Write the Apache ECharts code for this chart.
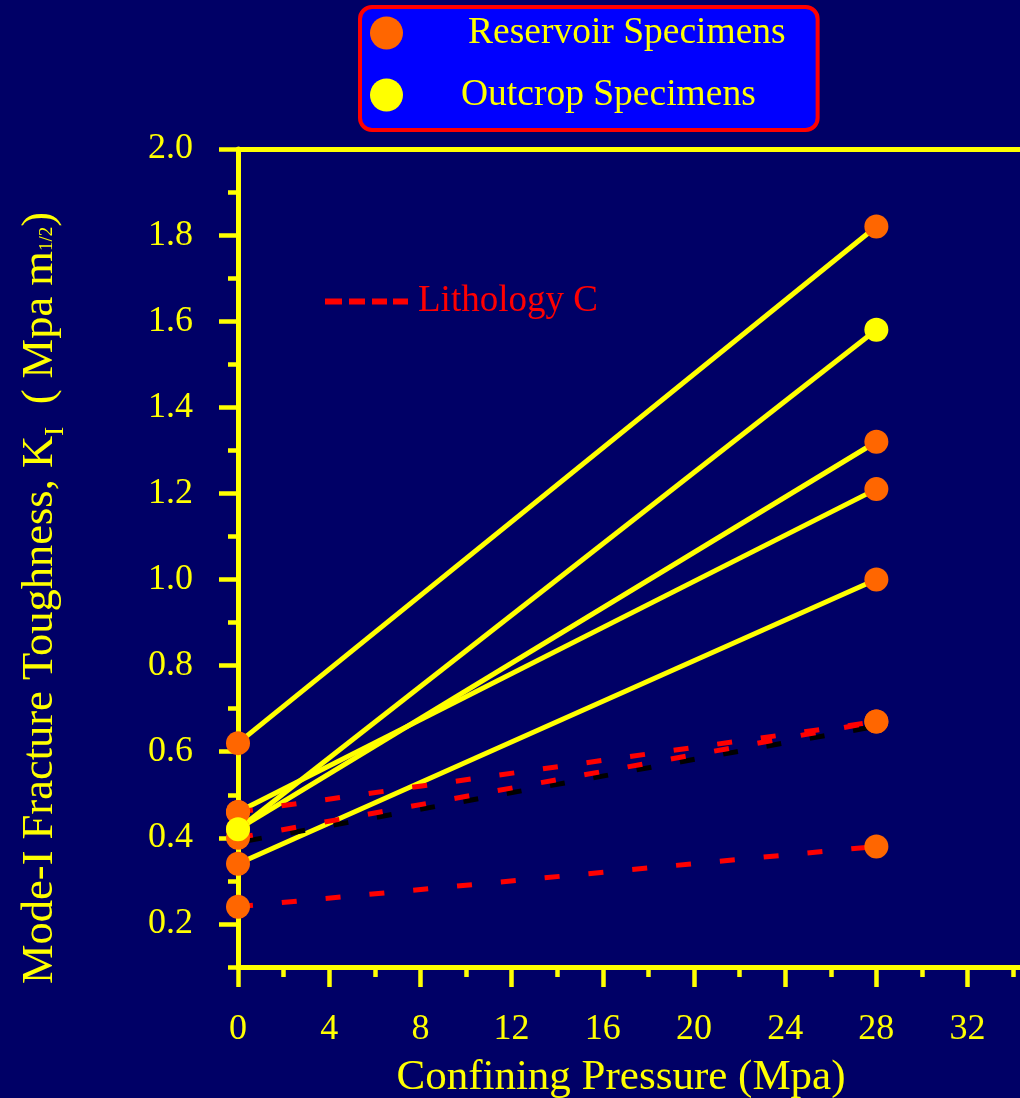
<!DOCTYPE html>
<html>
<head>
<meta charset="utf-8">
<script src="https://cdn.jsdelivr.net/npm/echarts@6/dist/echarts.min.js"></script>
<style>
  html, body { margin: 0; padding: 0; background: #000066; }
  #chart { width: 1020px; height: 1098px; }
</style>
</head>
<body>
<div id="chart"></div>
<script>
// Confining pressure (MPa) at which each specimen pair was tested
const pressure = [0, 28];

// Fracture toughness K_I (MPa m^1/2) at 0 and 28 MPa
const reservoirA = [0.62, 1.82];
const reservoirB = [0.46, 1.21];
const reservoirC = [0.42, 1.32];
const reservoirD = [0.34, 1.00];
const outcropA = [0.42, 1.58];

// Lithology C reservoir specimens (dashed)
const lithCUpper = [0.46, 0.67];
const lithCMiddle = [0.40, 0.67];
const lithCLower = [0.24, 0.38];

// Axis ticks
const xMajorTicks = [0, 4, 8, 12, 16, 20, 24, 28, 32];
const xMinorTicks = [2, 6, 10, 14, 18, 22, 26, 30, 34];
const yMajorTicks = [0.2, 0.4, 0.6, 0.8, 1.0, 1.2, 1.4, 1.6, 1.8, 2.0];
const yMinorTicks = [0.1, 0.3, 0.5, 0.7, 0.9, 1.1, 1.3, 1.5, 1.7, 1.9];

const YELLOW = '#FFFF00';
const ORANGE = '#FF6600';
const RED = '#FF0000';
const SERIF = '"Liberation Serif", "Times New Roman", serif';

const X_MAX = 34.3;

const toPoints = vals => pressure.map((p, i) => [p, vals[i]]);

const solidReservoir = [reservoirA, reservoirB, reservoirC, reservoirD];
const dashedReservoir = [lithCUpper, lithCLower, lithCMiddle];

const series = [];

solidReservoir.concat([outcropA]).forEach((vals, i) => {
  series.push({
    type: 'line', name: 'trend' + i, data: toPoints(vals),
    symbol: 'none', silent: true, z: 2,
    lineStyle: { color: YELLOW, width: 5 }
  });
});

dashedReservoir.forEach((vals) => {
  const shadowed = vals === lithCMiddle;
  series.push({
    type: 'line', name: 'Lithology C', data: toPoints(vals),
    symbol: 'none', silent: true, z: 3,
    itemStyle: { color: RED },
    lineStyle: Object.assign({ color: RED, width: 5, type: [15, 29] },
      shadowed ? { shadowColor: '#000000', shadowOffsetX: 9, shadowOffsetY: 3, shadowBlur: 0 } : {})
  });
});

const reservoirPoints = [];
solidReservoir.concat(dashedReservoir).forEach(vals => reservoirPoints.push(...toPoints(vals)));

series.push({
  type: 'scatter', name: 'Reservoir Specimens', data: reservoirPoints,
  symbol: 'circle', symbolSize: 24, z: 4, silent: true,
  itemStyle: { color: ORANGE, opacity: 1 }
});
series.push({
  type: 'scatter', name: 'Outcrop Specimens', data: toPoints(outcropA),
  symbol: 'circle', symbolSize: 24, z: 5, silent: true,
  itemStyle: { color: YELLOW, opacity: 1 }
});

const axisLineStyle = { color: YELLOW, width: 5 };
const tickStyle = { color: YELLOW, width: 4.5 };

// four short dashes used as the Lithology C key
const dashKey = 'path://M0,0H17V6H0Z M24,0H40V6H24Z M47,0H62V6H47Z M68,0H83V6H68Z';

const option = {
  backgroundColor: '#000066',
  animation: false,
  grid: { left: 238, top: 149, right: 0, bottom: 131, outerBoundsMode: 'none' },
  legend: [
    {
      orient: 'vertical', left: 360, top: 7,
      selectedMode: false,
      itemWidth: 33, itemHeight: 33, itemGap: 23,
      backgroundColor: '#0000FF', borderColor: RED, borderWidth: 4, borderRadius: 12,
      padding: [6, 32, 16, 10],
      textStyle: { color: YELLOW, fontSize: 37.5, lineHeight: 33, fontFamily: SERIF, padding: [7, 0, 0, 60] },
      data: [
        { name: 'Reservoir Specimens', icon: 'circle', itemStyle: { color: ORANGE, opacity: 1 } },
        { name: 'Outcrop Specimens', icon: 'circle', itemStyle: { color: YELLOW, opacity: 1 },
          textStyle: { color: YELLOW, fontSize: 37.5, lineHeight: 33, fontFamily: SERIF, padding: [0, 0, 2, 53] } }
      ]
    },
    {
      left: 325, top: 283,
      selectedMode: false,
      itemWidth: 83, itemHeight: 6, padding: 0,
      textStyle: { color: RED, fontSize: 37, lineHeight: 36, fontFamily: SERIF, padding: [0, 0, 0, 5] },
      data: [{ name: 'Lithology C', icon: dashKey, itemStyle: { color: RED, opacity: 1 } }]
    }
  ],
  xAxis: [
    {
      type: 'value', position: 'bottom', min: 0, max: X_MAX, interval: 4,
      axisLine: { onZero: false, lineStyle: axisLineStyle },
      axisTick: { length: 20, lineStyle: tickStyle, customValues: xMajorTicks },
      axisLabel: { color: YELLOW, fontSize: 36, fontFamily: SERIF, margin: 45, customValues: xMajorTicks },
      splitLine: { show: false },
      name: 'Confining Pressure (Mpa)', nameLocation: 'middle', nameGap: 89,
      nameTextStyle: { color: YELLOW, fontSize: 43, fontFamily: SERIF, padding: [0, 16, 0, 0] }
    },
    {
      type: 'value', position: 'top', min: 0, max: X_MAX,
      axisLine: { onZero: false, lineStyle: axisLineStyle },
      axisTick: { show: false }, axisLabel: { show: false }, splitLine: { show: false }
    },
    {
      type: 'value', position: 'bottom', min: 0, max: X_MAX,
      axisLine: { show: false, onZero: false },
      axisTick: { show: true, length: 10, lineStyle: tickStyle, customValues: xMinorTicks },
      axisLabel: { show: false }, splitLine: { show: false }
    }
  ],
  yAxis: [
    {
      type: 'value', position: 'left', min: 0.1, max: 2.0,
      axisLine: { show: true, lineStyle: axisLineStyle },
      axisTick: { show: true, length: 19, lineStyle: tickStyle, customValues: yMajorTicks },
      axisLabel: {
        color: YELLOW, fontSize: 36, fontFamily: SERIF, margin: 45,
        customValues: yMajorTicks, formatter: v => v.toFixed(1)
      },
      splitLine: { show: false },
      name: 'Mode-I Fracture Toughness, K{subI|I}  ( Mpa m{subH|1/2})',
      nameLocation: 'middle', nameRotate: 90, nameGap: 168,
      nameTextStyle: {
        color: YELLOW, fontSize: 44.5, lineHeight: 60, fontFamily: SERIF,
        padding: [0, 80, 0, 0],
        rich: {
          subI: { color: YELLOW, fontSize: 28, lineHeight: 28, fontFamily: SERIF, verticalAlign: 'bottom' },
          subH: { color: YELLOW, fontSize: 19, lineHeight: 19, fontFamily: SERIF, padding: [15, 0, 0, 0] }
        }
      }
    },
    {
      type: 'value', position: 'left', min: 0.1, max: 2.0,
      axisLine: { show: false },
      axisTick: { show: true, length: 10, lineStyle: tickStyle, customValues: yMinorTicks },
      axisLabel: { show: false },
      splitLine: { show: false }
    }
  ],
  series: series
};

const chart = echarts.init(document.getElementById('chart'));
chart.setOption(option);
</script>
</body>
</html>
